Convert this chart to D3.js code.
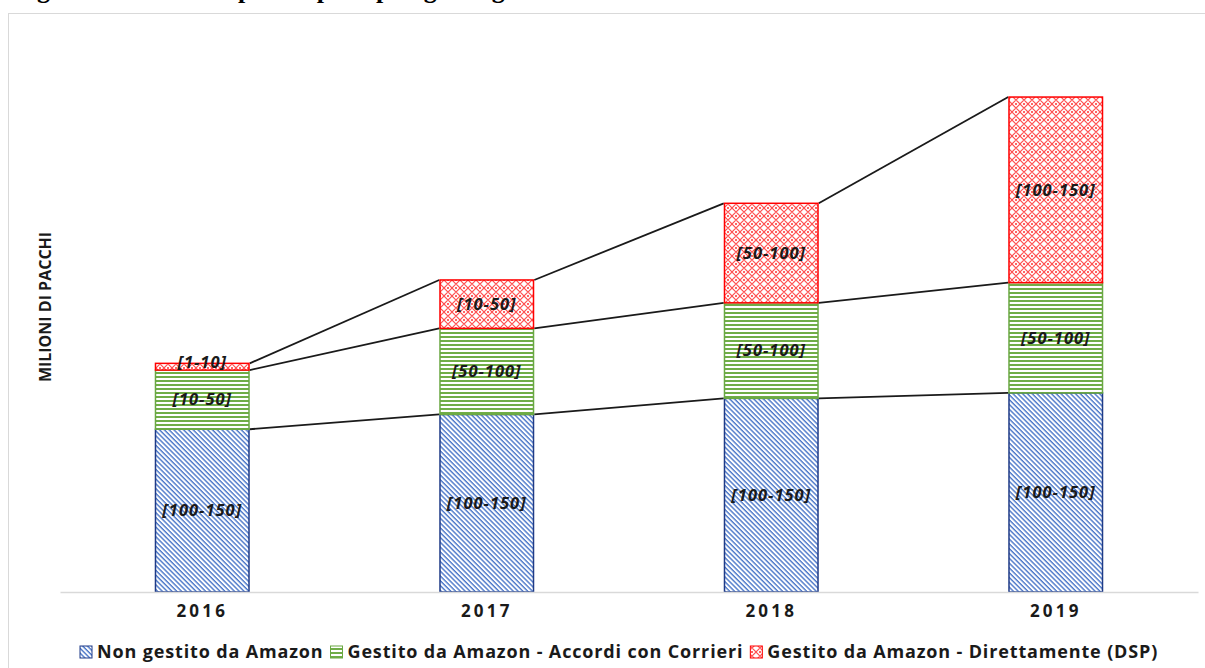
<!DOCTYPE html>
<html lang="it">
<head>
  <meta charset="UTF-8">
  <title>Milioni di pacchi per tipologia di gestione</title>
  <style>
    body {
      margin: 0;
      background: #fff;
      font-family: 'Open Sans', sans-serif;
      overflow: hidden;
    }
    svg { display: block; }
  </style>
  <script src="https://d3js.org/d3.v7.min.js"></script>
</head>
<body>
  <svg></svg>
  <script>
    const width = 1205, height = 668;

    // data (in millions of parcels)
    const years = ["2016", "2017", "2018", "2019"];
    const nonGestito = [121, 132, 144, 148];
    const corrieri = [44, 64, 71, 82];
    const dsp = [5, 36, 74, 138];
    const labelsNon = ["[100-150]", "[100-150]", "[100-150]", "[100-150]"];
    const labelsCorr = ["[10-50]", "[50-100]", "[50-100]", "[50-100]"];
    const labelsDsp = ["[1-10]", "[10-50]", "[50-100]", "[100-150]"];
    const seriesNames = [
      "Non gestito da Amazon",
      "Gestito da Amazon - Accordi con Corrieri",
      "Gestito da Amazon - Direttamente (DSP)"
    ];

    const svg = d3.select("svg")
      .attr("width", width)
      .attr("height", height);

    const defs = svg.append("defs");

    // blue: downward diagonal stripes
    const pBlue = defs.append("pattern")
      .attr("id", "pat-blue")
      .attr("patternUnits", "userSpaceOnUse")
      .attr("width", 3.4).attr("height", 3.4)
      .attr("patternTransform", "rotate(45)");
    pBlue.append("rect").attr("width", 3.4).attr("height", 3.4).attr("fill", "#fff");
    pBlue.append("rect").attr("width", 3.4).attr("height", 1.4).attr("fill", "#4a76c8");

    // green: horizontal stripes
    const pGreen = defs.append("pattern")
      .attr("id", "pat-green")
      .attr("patternUnits", "userSpaceOnUse")
      .attr("width", 4).attr("height", 4);
    pGreen.append("rect").attr("width", 4).attr("height", 4).attr("fill", "#fff");
    pGreen.append("rect").attr("y", 0).attr("width", 4).attr("height", 2).attr("fill", "#70ad47");

    // red: trellis
    const pRed = defs.append("pattern")
      .attr("id", "pat-red")
      .attr("patternUnits", "userSpaceOnUse")
      .attr("width", 8).attr("height", 8);
    pRed.append("rect").attr("width", 8).attr("height", 8).attr("fill", "#fff");
    pRed.append("path")
      .attr("d", "M0,4 L4,0 L8,4 L4,8 Z")
      .attr("fill", "none")
      .attr("stroke", "#ff5050")
      .attr("stroke-width", 1.1);
    [[0, 0], [8, 0], [0, 8], [8, 8]].forEach(c => {
      pRed.append("circle").attr("cx", c[0]).attr("cy", c[1]).attr("r", 1).attr("fill", "#ff3030");
    });

    const fills = ["url(#pat-blue)", "url(#pat-green)", "url(#pat-red)"];
    const strokes = ["#1f3b87", "#6aa843", "#ff0000"];

    // clipped title at the top
    svg.append("text")
      .attr("x", 14).attr("y", -2)
      .attr("font-family", "'Liberation Serif', serif")
      .attr("font-weight", "bold")
      .attr("font-size", 26)
      .text("Figura 2: Volumi di pacchi per tipologia di gestione");

    // chart area frame
    svg.append("rect")
      .attr("x", 8.5).attr("y", 13.5)
      .attr("width", 1300).attr("height", 700)
      .attr("fill", "none")
      .attr("stroke", "#d9d9d9");

    const x = d3.scaleBand()
      .domain(years)
      .range([60, 1198])
      .paddingInner(0.666)
      .paddingOuter(0.333);

    const y = d3.scaleLinear()
      .domain([0, 375])
      .range([592, 592 - 375 * 1.345]);

    const table = years.map((yr, i) => ({
      year: yr, non: nonGestito[i], corr: corrieri[i], dsp: dsp[i]
    }));
    const keys = ["non", "corr", "dsp"];
    const labels = [labelsNon, labelsCorr, labelsDsp];
    const stacked = d3.stack().keys(keys)(table);

    // series lines between bars
    stacked.forEach(layer => {
      for (let i = 0; i < years.length - 1; i++) {
        svg.append("line")
          .attr("x1", x(years[i]) + x.bandwidth())
          .attr("y1", y(layer[i][1]))
          .attr("x2", x(years[i + 1]))
          .attr("y2", y(layer[i + 1][1]))
          .attr("stroke", "#1a1a1a")
          .attr("stroke-width", 1.8);
      }
    });

    // bars
    stacked.forEach((layer, k) => {
      svg.append("g")
        .selectAll("rect")
        .data(layer)
        .join("rect")
        .attr("x", d => x(d.data.year) + 0.75)
        .attr("y", d => y(d[1]))
        .attr("width", x.bandwidth() - 1.5)
        .attr("height", d => y(d[0]) - y(d[1]))
        .attr("fill", fills[k])
        .attr("stroke", strokes[k])
        .attr("stroke-width", 1.5);
    });

    // data labels
    stacked.forEach((layer, k) => {
      svg.append("g")
        .selectAll("text")
        .data(layer)
        .join("text")
        .attr("x", d => x(d.data.year) + x.bandwidth() / 2)
        .attr("y", (d, i) => (k === 2 && i === 0) ? y(d[1]) - 1 : (y(d[0]) + y(d[1])) / 2)
        .attr("dy", "0.35em")
        .attr("text-anchor", "middle")
        .attr("font-size", 16.5)
        .attr("font-weight", "bold")
        .attr("font-style", "italic")
        .attr("letter-spacing", 1)
        .attr("fill", "#1a1a1a")
        .text((d, i) => labels[k][i]);
    });

    // x axis
    const xAxis = svg.append("g")
      .attr("transform", "translate(0,592)")
      .call(d3.axisBottom(x).tickSize(0).tickSizeOuter(0).tickPadding(13));
    xAxis.select(".domain").attr("stroke", "#d9d9d9").attr("stroke-width", 1.5);
    xAxis.selectAll("text")
      .attr("font-family", "'Open Sans', sans-serif")
      .attr("font-size", 17)
      .attr("font-weight", "bold")
      .attr("letter-spacing", 3.2)
      .attr("fill", "#1a1a1a");

    // y axis title
    svg.append("text")
      .attr("transform", "translate(51,307) rotate(-90)")
      .attr("text-anchor", "middle")
      .attr("font-size", 16)
      .attr("font-weight", "bold")
      .attr("fill", "#1a1a1a")
      .text("MILIONI DI PACCHI");

    // legend
    const legend = svg.append("g").attr("transform", "translate(80,652)");
    let lx = 0;
    seriesNames.forEach((name, k) => {
      legend.append("rect")
        .attr("x", lx).attr("y", -6)
        .attr("width", 12).attr("height", 12)
        .attr("fill", fills[k])
        .attr("stroke", strokes[k])
        .attr("stroke-width", 1);
      const t = legend.append("text")
        .attr("x", lx + 17)
        .attr("dy", "0.35em")
        .attr("font-size", 18)
        .attr("font-weight", "bold")
        .attr("letter-spacing", 0.85)
        .attr("fill", "#1a1a1a")
        .text(name);
      lx += 17 + t.node().getComputedTextLength() + 7;
    });
  </script>
</body>
</html>
